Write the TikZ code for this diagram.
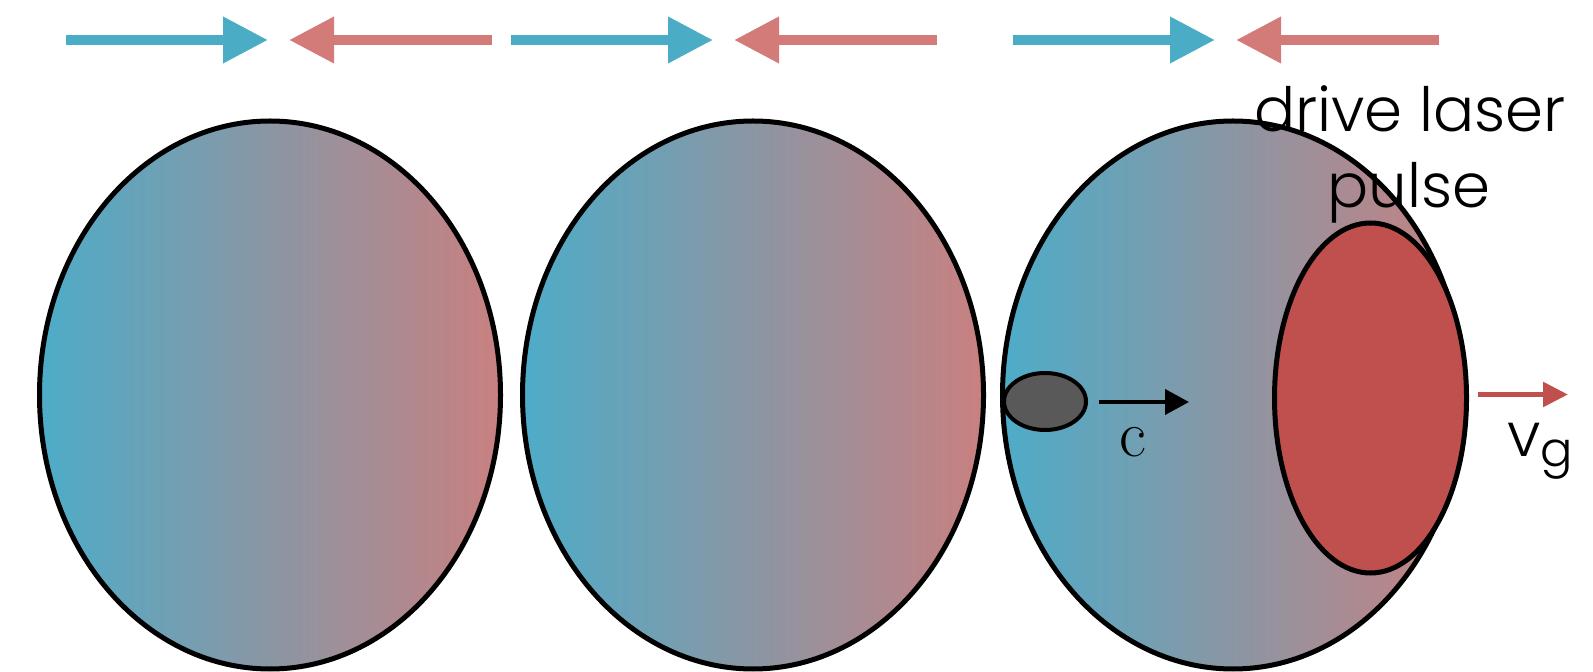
\documentclass[tikz,border=0pt]{standalone}
\usepackage{fontspec}
\newfontfamily\gfont{Poppins}[UprightFont=* Light]
\usetikzlibrary{arrows.meta,shapes.geometric}
\definecolor{cblue}{HTML}{4BACC6}
\definecolor{cred}{HTML}{D27B78}
\definecolor{gblue}{HTML}{4DACC8}
\definecolor{gred}{HTML}{C98080}
\definecolor{pulsec}{HTML}{C0504D}
\definecolor{bunchc}{HTML}{595959}
\tikzset{
  bubble/.style={ellipse, draw=black, line width=2.5pt, left color=gblue, right color=gred, inner sep=0pt, minimum width=230.5pt, minimum height=274pt},
  toparrow/.style={line width=5pt, -{Triangle[length=22.5pt,width=22pt]}},
  lbl/.style={font=\gfont\fontsize{30.5pt}{38pt}\selectfont, text=black, inner sep=0pt}
}
\begin{document}
\begin{tikzpicture}[x=0.5pt,y=-0.5pt]
\useasboundingbox (0,0) rectangle (1593,672);
% top arrows
\foreach \o/\n in {0/a,445/b,947/c}{
  \coordinate (bs\n) at (66+\o,40);
  \coordinate (be\n) at (268+\o,40);
  \coordinate (rs\n) at (492+\o,40);
  \coordinate (re\n) at (289+\o,40);
  \draw[toparrow, cblue] (bs\n) -- (be\n);
  \draw[toparrow, cred] (rs\n) -- (re\n);
}
% bubbles
\node[bubble] (b1) at (270,395) {};
\node[bubble] (b2) at (753,395) {};
\node[bubble] (b3) at (1233,395) {};
% drive pulse
\node[ellipse, draw=black, line width=2.5pt, fill=pulsec, inner sep=0pt, minimum width=96pt, minimum height=175pt] (pulse) at (1370.5,398) {};
% electron bunch
\node[ellipse, draw=black, line width=2pt, fill=bunchc, inner sep=0pt, minimum width=41pt, minimum height=28.5pt] (bunch) at (1045,401.5) {};
% c arrow
\coordinate (cs) at (1099,402);
\coordinate (ce) at (1189,402);
\draw[line width=2pt, -{Triangle[length=12pt,width=12.5pt]}] (cs) -- (ce);
\node[font=\fontsize{33pt}{38pt}\selectfont, inner sep=0pt, anchor=base] (clbl) at (1133,457) {c};
% vg arrow
\coordinate (vs) at (1478,394.5);
\coordinate (ve) at (1568,394.5);
\draw[line width=2.8pt, pulsec, -{Triangle[length=12.5pt,width=12pt]}] (vs) -- (ve);
\node[lbl, anchor=base west] (vlbl) at (1507,457) {v\raisebox{-5pt}{\fontsize{24pt}{28pt}\selectfont g}};
% label
\node[lbl, anchor=base] (dl) at (1410,132) {drive laser};
\node[lbl, anchor=base] (pl) at (1409,208) {pulse};
\end{tikzpicture}
\end{document}
